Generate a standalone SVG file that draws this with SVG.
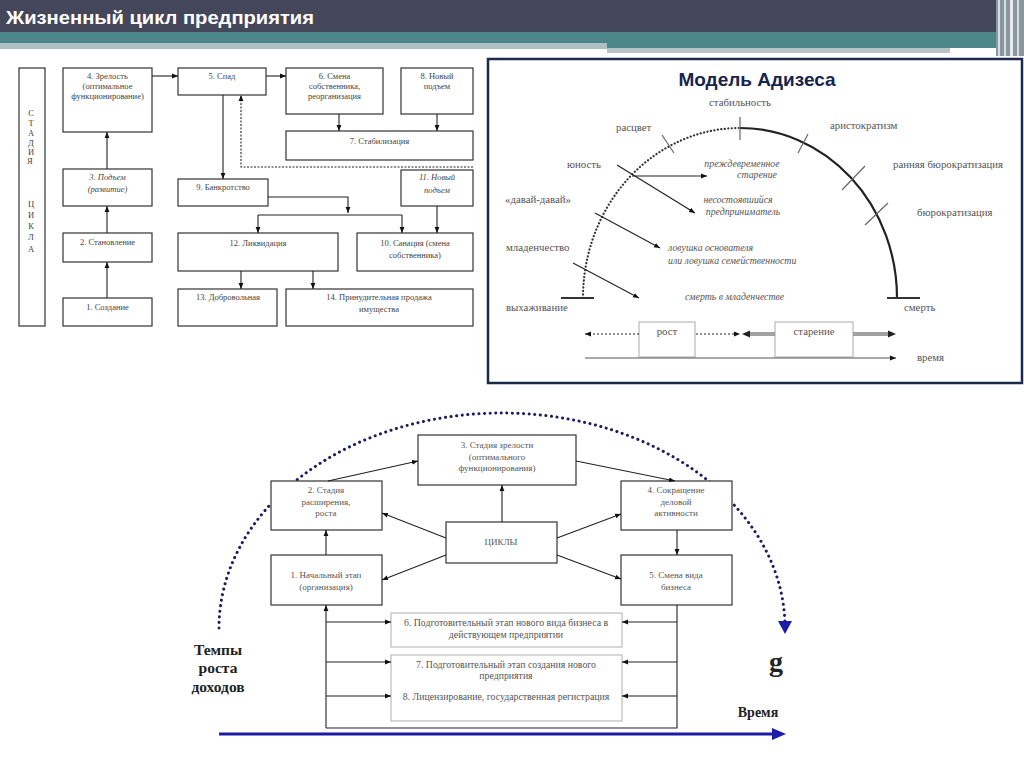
<svg xmlns="http://www.w3.org/2000/svg" width="1024" height="767" viewBox="0 0 1024 767">
<style>
.bx{fill:#fff;stroke:#333;stroke-width:1.2}
.lb{fill:#fff;stroke:#bbb;stroke-width:1.2}
.t{font-family:"Liberation Serif",serif;font-size:8.5px;fill:#444;text-anchor:middle}
.ti{font-family:"Liberation Serif",serif;font-size:8.5px;fill:#444;text-anchor:middle;font-style:italic}
.a{font-family:"Liberation Serif",serif;font-size:10.8px;fill:#555}
.ai{font-family:"Liberation Serif",serif;font-size:9.8px;fill:#555;font-style:italic}
.b{font-family:"Liberation Serif",serif;font-size:9px;fill:#555;text-anchor:middle}
.bw{font-family:"Liberation Serif",serif;font-size:9.8px;fill:#555;text-anchor:middle}
.bold{font-family:"Liberation Serif",serif;font-weight:bold;fill:#222;text-anchor:middle}
.c{fill:none;stroke:#222;stroke-width:1.1}
.ca{fill:none;stroke:#222;stroke-width:1.1;marker-end:url(#ah)}
</style>
<defs>
<marker id="ah" viewBox="0 0 10 10" refX="10" refY="5" markerWidth="6" markerHeight="6" markerUnits="userSpaceOnUse" orient="auto"><path d="M0,1 L10,5 L0,9 z" fill="#111"/></marker>
</defs>
<rect width="1024" height="767" fill="#fff"/>
<!-- header -->
<g id="header">
<rect x="0" y="0" width="1024" height="32" fill="#44465a"/>
<rect x="0" y="32" width="1024" height="11" fill="#4c8689"/>
<rect x="0" y="43" width="607" height="6" fill="#aebfc2"/>
<rect x="607" y="43" width="393" height="5" fill="#4c8689"/>
<rect x="607" y="48" width="343" height="5" fill="#b6c4c7"/>
<rect x="996" y="0" width="28" height="56" fill="#8a96a0"/>
<rect x="998" y="0" width="2" height="56" fill="#d6dde0"/>
<rect x="1004" y="0" width="2" height="56" fill="#d6dde0"/>
<rect x="1010" y="0" width="3" height="56" fill="#e8ecee"/>
<rect x="1017" y="0" width="2" height="56" fill="#d6dde0"/>
<text x="6" y="24" font-family="Liberation Sans, sans-serif" font-weight="bold" font-size="18" fill="#fff" textLength="308" lengthAdjust="spacingAndGlyphs">Жизненный цикл предприятия</text>
</g>

<!-- top-left diagram -->
<g id="stage"><rect class="bx" x="19" y="68" width="26" height="258"/>
<text class="t" font-size="9">
<tspan x="31" y="116">С</tspan><tspan x="31" y="126">Т</tspan><tspan x="31" y="136">А</tspan><tspan x="31" y="146">Д</tspan><tspan x="31" y="155">И</tspan><tspan x="31" y="164">Я</tspan>
<tspan x="31" y="207">Ц</tspan><tspan x="31" y="218">И</tspan><tspan x="31" y="229">К</tspan><tspan x="31" y="240">Л</tspan><tspan x="31" y="252">А</tspan></text></g>
<g id="tl4"><rect class="bx" x="63" y="68" width="89" height="64"/><text class="t"><tspan x="107.5" y="79">4. Зрелость</tspan><tspan x="107.5" y="89">(оптимальное</tspan><tspan x="107.5" y="99">функционирование)</tspan></text></g>
<g id="tl3"><rect class="bx" x="63" y="169" width="89" height="37"/><text class="ti"><tspan x="107.5" y="180">3. Подъем</tspan><tspan x="107.5" y="192">(развитие)</tspan></text></g>
<g id="tl2"><rect class="bx" x="63" y="233" width="89" height="29"/><text class="t" x="107.5" y="245">2. Становление</text></g>
<g id="tl1"><rect class="bx" x="63" y="298" width="89" height="28"/><text class="t" x="107.5" y="310">1. Создание</text></g>
<g id="tl5"><rect class="bx" x="178" y="68" width="88" height="27"/><text class="t" x="222" y="79">5. Спад</text></g>
<g id="tl6"><rect class="bx" x="286" y="68" width="97" height="46"/><text class="t"><tspan x="334.5" y="79">6. Смена</tspan><tspan x="334.5" y="89">собственника,</tspan><tspan x="334.5" y="99">реорганизация</tspan></text></g>
<g id="tl8"><rect class="bx" x="401" y="68" width="72" height="46"/><text class="t"><tspan x="437" y="79">8. Новый</tspan><tspan x="437" y="89">подъем</tspan></text></g>
<g id="tl7"><rect class="bx" x="286" y="131" width="187" height="29"/><text class="t" x="379.5" y="144">7. Стабилизация</text></g>
<g id="tl9"><rect class="bx" x="178" y="179" width="90" height="27"/><text class="t" x="223" y="190">9. Банкротство</text></g>
<g id="tl11"><rect class="bx" x="401" y="170" width="72" height="36"/><text class="ti"><tspan x="437" y="180">11. Новый</tspan><tspan x="437" y="193">подъем</tspan></text></g>
<g id="tl12"><rect class="bx" x="178" y="233" width="160" height="38"/><text class="t" x="258" y="246">12. Ликвидация</text></g>
<g id="tl10"><rect class="bx" x="357" y="233" width="116" height="38"/><text class="t"><tspan x="415" y="246">10. Санация (смена</tspan><tspan x="415" y="258">собственника)</tspan></text></g>
<g id="tl13"><rect class="bx" x="178" y="289" width="99" height="37"/><text class="t" x="228" y="300">13. Добровольная</text></g>
<g id="tl14"><rect class="bx" x="286" y="289" width="187" height="37"/><text class="t"><tspan x="379" y="300">14. Принудительная продажа</tspan><tspan x="379" y="312">имущества</tspan></text></g>

<g id="tl-connectors">
<line class="ca" x1="107" y1="298" x2="107" y2="262"/>
<line class="ca" x1="107" y1="233" x2="107" y2="206"/>
<line class="ca" x1="107" y1="169" x2="107" y2="132"/>
<line class="ca" x1="152" y1="76" x2="178" y2="76"/>
<line class="ca" x1="266" y1="76" x2="286" y2="76"/>
<line class="ca" x1="339" y1="114" x2="339" y2="131"/>
<line class="ca" x1="437" y1="114" x2="437" y2="131"/>
<line class="ca" x1="223" y1="95" x2="223" y2="179"/>
<polyline class="ca" points="473,167 241,167 241,95" stroke-dasharray="2,1.5" stroke-width="0.9"/>
<polyline class="ca" points="268,197 348,197 348,213"/>
<line class="c" x1="258" y1="215" x2="402" y2="215"/>
<line class="ca" x1="258" y1="215" x2="258" y2="233"/>
<line class="ca" x1="402" y1="215" x2="402" y2="233"/>
<line class="ca" x1="437" y1="206" x2="437" y2="233"/>
<line class="ca" x1="241" y1="271" x2="241" y2="289"/>
<line class="ca" x1="313" y1="271" x2="313" y2="289"/>
</g>

<!-- Adizes model -->
<g id="adizes">
<rect x="488" y="59" width="534" height="324" fill="#fff" stroke="#1b2a48" stroke-width="2.5"/>
<text x="757" y="86" font-family="Liberation Sans, sans-serif" font-weight="bold" font-size="19" fill="#16244e" text-anchor="middle">Модель Адизеса</text>
<path d="M583,298 A157,170 0 0 1 740,128" fill="none" stroke="#333" stroke-width="2.2" stroke-dasharray="0.1 3.4" stroke-linecap="round"/>
<path d="M740,128 A157,170 0 0 1 897,298" fill="none" stroke="#222" stroke-width="2.2"/>
<line x1="561" y1="298" x2="594" y2="298" stroke="#333" stroke-width="2.2"/>
<line x1="887" y1="298" x2="920" y2="298" stroke="#333" stroke-width="2.2"/>
<g stroke="#666" stroke-width="1.2">
<line x1="740" y1="117" x2="740" y2="140"/>
<line x1="662" y1="135" x2="674" y2="153"/>
<line x1="798" y1="153" x2="808" y2="134"/>
<line x1="842" y1="190" x2="865" y2="166"/>
<line x1="865" y1="225" x2="888" y2="203"/>
</g>
<line class="ca" x1="617" y1="165" x2="695" y2="213"/>
<line class="ca" x1="632" y1="176" x2="707" y2="176"/>
<line class="ca" x1="595" y1="213" x2="660" y2="248"/>
<line class="ca" x1="573" y1="263" x2="639" y2="298"/>
<text class="a" x="740" y="106" text-anchor="middle">стабильность</text>
<text class="a" x="616" y="131">расцвет</text>
<text class="a" x="567" y="168">юность</text>
<text class="a" x="505" y="203">«давай-давай»</text>
<text class="a" x="506" y="251">младенчество</text>
<text class="a" x="506" y="311">выхаживание</text>
<text class="a" x="830" y="129">аристократизм</text>
<text class="a" x="893" y="168">ранняя бюрократизация</text>
<text class="a" x="917" y="216">бюрократизация</text>
<text class="a" x="904" y="311">смерть</text>
<text class="ai" x="742" y="167" text-anchor="middle">преждевременное</text>
<text class="ai" x="757" y="178" text-anchor="middle">старение</text>
<text class="ai" x="738" y="203" text-anchor="middle">несостоявшийся</text>
<text class="ai" x="743" y="215" text-anchor="middle">предприниматель</text>
<text class="ai" x="668" y="251">ловушка основателя</text>
<text class="ai" x="668" y="264">или ловушка семейственности</text>
<text class="ai" x="685" y="300">смерть в младенчестве</text>
<rect x="639" y="322" width="56" height="35" fill="#fff" stroke="#aaa" stroke-width="1"/>
<text class="a" x="667" y="335" text-anchor="middle">рост</text>
<rect x="775" y="322" width="78" height="35" fill="#fff" stroke="#aaa" stroke-width="1"/>
<text class="a" x="814" y="335" text-anchor="middle">старение</text>
<line class="ca" x1="639" y1="334" x2="585" y2="334" stroke-dasharray="2,2"/>
<line class="ca" x1="696" y1="334" x2="740" y2="334" stroke-dasharray="2,2"/>
<line x1="775" y1="334" x2="748" y2="334" stroke="#444" stroke-width="3"/>
<line x1="775" y1="334" x2="748" y2="334" stroke="#fff" stroke-width="1"/>
<polygon points="742,334 750,330.5 750,337.5" fill="#222"/>
<line x1="853" y1="334" x2="890" y2="334" stroke="#444" stroke-width="3"/>
<line x1="853" y1="334" x2="890" y2="334" stroke="#fff" stroke-width="1"/>
<polygon points="896,334 888,330.5 888,337.5" fill="#222"/>
<line x1="585" y1="358" x2="896" y2="358" stroke="#555" stroke-width="1.2" marker-end="url(#ah)"/>
<text class="a" x="917" y="361">время</text>
</g>

<!-- bottom diagram -->
<path id="arc" d="M219,628 A283,215 0 0 1 785,628" fill="none" stroke="#1c1c5e" stroke-width="3" stroke-dasharray="0.1 5.5" stroke-linecap="round"/>
<polygon points="778,621 792,621 785,634" fill="#1b1ba8"/>
<g id="b3"><rect class="bx" x="418" y="435" width="158" height="50"/><text class="b"><tspan x="497" y="448">3. Стадия зрелости</tspan><tspan x="497" y="460">(оптимального</tspan><tspan x="497" y="471">функционирования)</tspan></text></g>
<g id="b2"><rect class="bx" x="271" y="481" width="111" height="49"/><text class="b"><tspan x="326" y="493">2. Стадия</tspan><tspan x="326" y="505">расширения,</tspan><tspan x="326" y="516">роста</tspan></text></g>
<g id="b4"><rect class="bx" x="621" y="481" width="111" height="49"/><text class="b"><tspan x="676" y="493">4. Сокращение</tspan><tspan x="676" y="505">деловой</tspan><tspan x="676" y="516">активности</tspan></text></g>
<g id="bc"><rect class="bx" x="446" y="522" width="111" height="41"/><text class="b" x="501" y="545">ЦИКЛЫ</text></g>
<g id="b1"><rect class="bx" x="271" y="555" width="111" height="50"/><text class="b"><tspan x="326" y="578">1. Начальный этап</tspan><tspan x="326" y="590">(организация)</tspan></text></g>
<g id="b5"><rect class="bx" x="621" y="555" width="111" height="50"/><text class="b"><tspan x="676" y="578">5. Смена вида</tspan><tspan x="676" y="590">бизнеса</tspan></text></g>
<g id="b6"><rect class="lb" x="391" y="613" width="231" height="34"/><text class="bw"><tspan x="506" y="626">6. Подготовительный этап нового вида бизнеса в</tspan><tspan x="506" y="638">действующем предприятии</tspan></text></g>
<g id="b78"><rect class="lb" x="391" y="655" width="231" height="66"/><text class="bw"><tspan x="506" y="668">7. Подготовительный этап создания нового</tspan><tspan x="506" y="679">предприятия</tspan><tspan x="506" y="700">8. Лицензирование, государственная регистрация</tspan></text></g>

<g id="b-connectors">
<line class="ca" x1="328" y1="481" x2="418" y2="461"/>
<line class="ca" x1="576" y1="461" x2="675" y2="481"/>
<line class="ca" x1="502" y1="522" x2="502" y2="485"/>
<line class="ca" x1="446" y1="538" x2="382" y2="513"/>
<line class="ca" x1="446" y1="555" x2="382" y2="580"/>
<line class="ca" x1="557" y1="538" x2="621" y2="514"/>
<line class="ca" x1="557" y1="555" x2="621" y2="579"/>
<line class="ca" x1="326" y1="555" x2="326" y2="530"/>
<line class="ca" x1="677" y1="530" x2="677" y2="555"/>
<line class="ca" x1="326" y1="728" x2="326" y2="605"/>
<polyline class="c" points="326,728 677,728 677,605"/>
<line class="ca" x1="326" y1="622" x2="391" y2="622"/>
<line class="ca" x1="326" y1="662" x2="391" y2="662"/>
<line class="ca" x1="326" y1="696" x2="391" y2="696"/>
<line class="ca" x1="677" y1="622" x2="622" y2="622"/>
<line class="ca" x1="677" y1="662" x2="622" y2="662"/>
<line class="ca" x1="677" y1="696" x2="622" y2="696"/>
</g>
<g id="axis">
<line x1="219" y1="734" x2="775" y2="734" stroke="#1b1ba8" stroke-width="3"/>
<polygon points="772,728 786,734 772,740" fill="#1b1ba8"/>
</g>
<text class="bold" font-size="15.5"><tspan x="218" y="655">Темпы</tspan><tspan x="218" y="673">роста</tspan><tspan x="218" y="692">доходов</tspan></text>
<text class="bold" x="776" y="671" font-size="28">g</text>
<text class="bold" x="758" y="717" font-size="14">Время</text>
</svg>
